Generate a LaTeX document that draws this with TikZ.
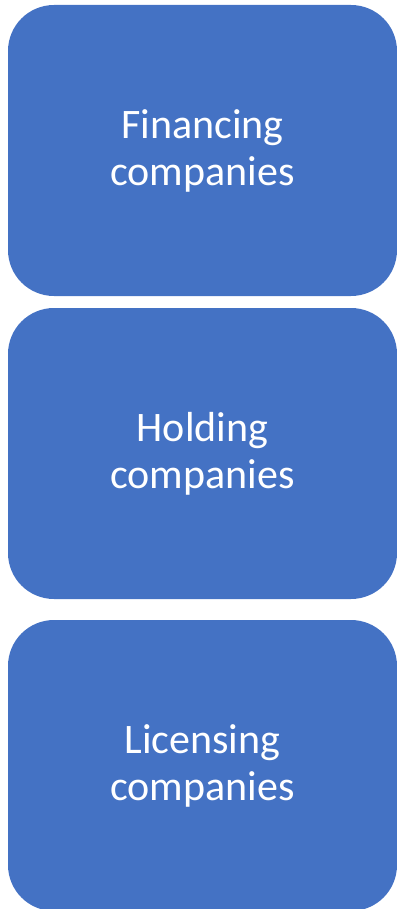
\documentclass[tikz,border=0pt]{standalone}
\usepackage{fontspec}
\setmainfont{Carlito}
\usetikzlibrary{positioning}
\definecolor{boxblue}{HTML}{4472C4}

\begin{document}
\begin{tikzpicture}[x=1pt, y=1pt,
  kindbox/.style={fill=boxblue, rounded corners=46pt, minimum width=389pt, minimum height=291pt,
    inner sep=0pt, outer sep=0pt, text=white, align=center, font=\fontsize{42}{47}\selectfont}]
  \useasboundingbox (0,0) rectangle (396,-909);
  \node[kindbox, anchor=north west] (financing) at (8,-5) {Financing\\companies};
  \node[kindbox, below=12pt of financing] (holding) {Holding\\companies};
  \node[kindbox, below=21pt of holding] (licensing) {Licensing\\companies};
\end{tikzpicture}
\end{document}
